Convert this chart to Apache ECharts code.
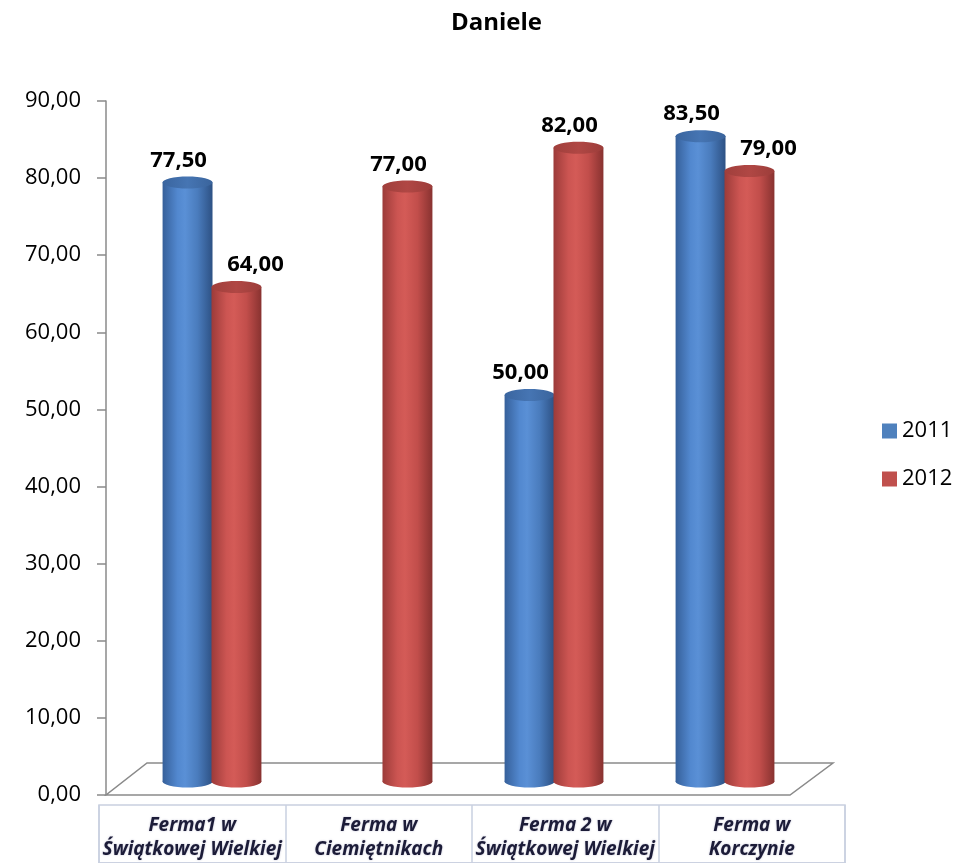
<!DOCTYPE html>
<html>
<head>
<meta charset="utf-8">
<script src="https://cdn.jsdelivr.net/npm/echarts@6/dist/echarts.min.js"></script>
<style>
html,body{margin:0;padding:0;background:#fff;}
#chart{width:963px;height:863px;}
</style>
</head>
<body>
<div id="chart"></div>
<script>
const categories = ['Ferma1 w\nŚwiątkowej Wielkiej', 'Ferma w\nCiemiętnikach', 'Ferma 2 w\nŚwiątkowej Wielkiej', 'Ferma w\nKorczynie'];
const seriesNames = ['2011', '2012'];
const values2011 = [77.5, null, 50, 83.5];
const values2012 = [64, 77, 82, 79];
const yTickLabels = ['0,00','10,00','20,00','30,00','40,00','50,00','60,00','70,00','80,00','90,00'];

const allValues = [values2011, values2012];
const FONT = '"Open Sans", "DejaVu Sans", sans-serif';

const bodyGrad = [
  [{offset:0,color:'#36609a'},{offset:0.3,color:'#5288cf'},{offset:0.45,color:'#5a90d6'},{offset:0.7,color:'#4a7cbd'},{offset:1,color:'#2d5184'}],
  [{offset:0,color:'#9c3b39'},{offset:0.3,color:'#cc5552'},{offset:0.45,color:'#d45b57'},{offset:0.7,color:'#c24e4b'},{offset:1,color:'#883230'}]
];
const topGrad = [
  [{offset:0,color:'#3a659f'},{offset:0.5,color:'#4675b3'},{offset:1,color:'#3a649c'}],
  [{offset:0,color:'#a03f3c'},{offset:0.5,color:'#b04744'},{offset:1,color:'#9c3d3a'}]
];

function fmt(v){ return v.toFixed(2).replace('.', ','); }

function makeRender(si){
  return function(params, api){
    const idx = api.value(0);
    const v = api.value(1);
    if (v == null || isNaN(v)) return;
    const band = api.size([1,0])[0];
    const w = band * 0.292;
    const off = band * 0.143 * (si === 0 ? -1 : 1);
    const top = api.coord([idx, v]);
    const base = api.coord([idx, 0]);
    const cx = top[0] + off;
    const rx = w / 2, ry = 6;
    const other = allValues[1 - si][idx];
    let dx = -9;
    if (si === 1 && other != null && other > v) dx = 19;
    const lin = (stops) => ({type:'linear', x:0, y:0, x2:1, y2:0, colorStops: stops});
    return {
      type: 'group',
      children: [
        {type:'ellipse', shape:{cx:cx, cy:base[1], rx:rx, ry:ry}, style:{fill: lin(bodyGrad[si])}},
        {type:'rect', shape:{x:cx-rx, y:top[1], width:w, height:base[1]-top[1]}, style:{fill: lin(bodyGrad[si])}},
        {type:'ellipse', shape:{cx:cx, cy:top[1], rx:rx, ry:ry}, style:{fill: lin(topGrad[si])}},
        {type:'text', style:{text: fmt(v), x: cx + dx, y: top[1] - ry - 5, align:'center', verticalAlign:'bottom',
          font: 'bold 22px ' + FONT, fill:'#000'}}
      ]
    };
  };
}

const chart = echarts.init(document.getElementById('chart'), null, {renderer:'canvas'});
const option = {
  backgroundColor: '#fff',
  animation: false,
  title: {
    text: 'Daniele', left: 446, top: 6,
    textStyle: {fontFamily: FONT, fontWeight: 'bold', fontSize: 24, color: '#000'}
  },
  legend: {
    data: seriesNames, orient: 'vertical', left: 882, top: 420, padding: 0,
    itemWidth: 15, itemHeight: 15, itemGap: 26, icon: 'rect',
    textStyle: {fontFamily: FONT, fontSize: 22, color: '#000', lineHeight: 22}
  },
  grid: [
    {left: 106, top: 101, width: 684, height: 694},
    {left: 126.5, top: 101, width: 684, height: 694},
    {left: 99, top: 805, width: 746, height: 120, show: true, borderColor: '#c9d0e0', borderWidth: 1.5, backgroundColor: 'transparent'}
  ],
  xAxis: [
    {gridIndex: 0, type: 'category', data: categories, show: false},
    {gridIndex: 1, type: 'category', data: categories, show: false},
    {gridIndex: 2, type: 'category', data: categories, position: 'top',
      axisLine: {show: true, lineStyle: {color: '#c9d0e0', width: 1.5}},
      axisTick: {show: false},
      splitLine: {show: true, lineStyle: {color: '#c9d0e0', width: 1.5}},
      axisLabel: {inside: true, margin: 9, interval: 0, fontFamily: FONT, fontSize: 19, fontWeight: 'bold', fontStyle: 'italic',
        color: '#1c1c38', lineHeight: 24, align: 'center',
        textShadowColor: 'rgba(60,60,120,0.35)', textShadowBlur: 2}
    }
  ],
  yAxis: [
    {gridIndex: 0, type: 'value', min: 0, max: 90, interval: 10,
      axisLine: {show: true, lineStyle: {color: '#8a8a8a', width: 1.5}},
      axisTick: {show: true, length: 9, lineStyle: {color: '#8a8a8a', width: 1.5}},
      splitLine: {show: false},
      axisLabel: {margin: 25, fontFamily: FONT, fontSize: 22, color: '#000',
        formatter: function(v){ return yTickLabels[Math.round(v/10)]; }}
    },
    {gridIndex: 1, type: 'value', min: -1.733, max: 88.05, show: false},
    {gridIndex: 2, type: 'value', show: false}
  ],
  series: [
    {
      name: 'floor', type: 'custom', xAxisIndex: 0, yAxisIndex: 0, z: 1, silent: true,
      data: [[0, 0]],
      renderItem: function(params, api){
        const cs = params.coordSys;
        const b = cs.y + cs.height;
        return {type: 'polygon', shape: {points: [[cs.x, b], [cs.x + cs.width, b], [cs.x + cs.width + 43, b - 32], [cs.x + 41, b - 32]]},
          style: {fill: 'none', stroke: '#8a8a8a', lineWidth: 1.5}};
      }
    },
    {
      name: seriesNames[0], type: 'custom', xAxisIndex: 1, yAxisIndex: 1, z: 3,
      itemStyle: {color: '#4f81bd'},
      data: values2011.map((v, i) => [i, v == null ? '-' : v]),
      renderItem: makeRender(0)
    },
    {
      name: seriesNames[1], type: 'custom', xAxisIndex: 1, yAxisIndex: 1, z: 3,
      itemStyle: {color: '#c0504d'},
      data: values2012.map((v, i) => [i, v]),
      renderItem: makeRender(1)
    }
  ]
};
chart.setOption(option);
</script>
</body>
</html>
